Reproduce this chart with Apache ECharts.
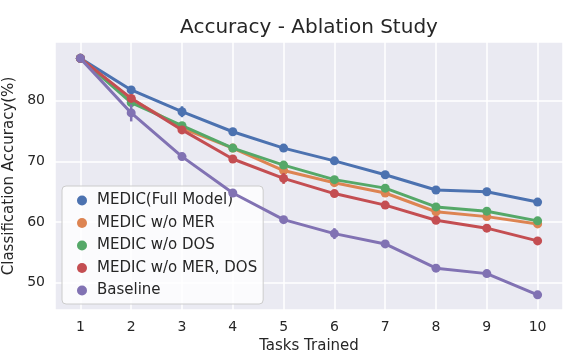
<!DOCTYPE html>
<html>
<head>
<meta charset="utf-8">
<script src="https://cdn.jsdelivr.net/npm/echarts@6/dist/echarts.min.js"></script>
<style>
  html, body { margin: 0; padding: 0; background: #fff; }
  #chart { width: 582px; height: 360px; }
</style>
</head>
<body>
<div id="chart"></div>
<script>
// tasks on the x axis
var tasks = [1, 2, 3, 4, 5, 6, 7, 8, 9, 10];

var seriesNames = ['MEDIC(Full Model)', 'MEDIC w/o MER', 'MEDIC w/o DOS', 'MEDIC w/o MER, DOS', 'Baseline'];

// accuracy values
var fullModel = [87.0, 81.8, 78.2, 74.9, 72.2, 70.1, 67.8, 65.3, 65.0, 63.3];
var woMer     = [87.0, 80.3, 75.5, 72.2, 68.5, 66.5, 64.8, 61.7, 60.9, 59.7];
var woDos     = [87.0, 79.7, 75.9, 72.2, 69.4, 67.0, 65.6, 62.5, 61.8, 60.2];
var woMerDos  = [87.0, 80.4, 75.2, 70.4, 67.2, 64.7, 62.8, 60.3, 59.0, 56.9];
var baseline  = [87.0, 78.0, 70.8, 64.8, 60.4, 58.1, 56.4, 52.4, 51.5, 48.0];

// half-width of the small confidence bars (mostly hidden under the dots)
var fullModelErr = [0, 0.4, 0.9, 0.4, 0.3, 0.3, 0.3, 0.3, 0.3, 0.3];
var woMerErr     = [0, 0.5, 0.6, 0.4, 0.5, 0.4, 0.3, 0.4, 0.3, 0.3];
var woDosErr     = [0, 0.5, 0.6, 0.4, 0.4, 0.4, 0.3, 0.3, 0.3, 0.3];
var woMerDosErr  = [0, 0.6, 0.6, 0.4, 0.9, 0.4, 0.3, 0.3, 0.4, 0.3];
var baselineErr  = [0, 1.4, 0.4, 0.4, 0.4, 0.9, 0.3, 0.4, 0.3, 0.3];

var colors = ['#4C72B0', '#DD8452', '#55A868', '#C44E52', '#8172B3'];

function pairs(vals) {
    var out = [];
    for (var i = 0; i < tasks.length; i++) {
        out.push([tasks[i], vals[i]]);
    }
    return out;
}

function errRows(vals, errs) {
    var out = [];
    for (var i = 0; i < tasks.length; i++) {
        out.push([tasks[i], vals[i] - errs[i], vals[i] + errs[i]]);
    }
    return out;
}

var allVals = [fullModel, woMer, woDos, woMerDos, baseline];
var allErrs = [fullModelErr, woMerErr, woDosErr, woMerDosErr, baselineErr];
var series = [];
for (var s = 0; s < allVals.length; s++) {
    series.push({
        name: seriesNames[s],
        type: 'line',
        data: pairs(allVals[s]),
        symbol: 'circle',
        symbolSize: 9,
        lineStyle: { width: 3, color: colors[s] },
        itemStyle: { color: colors[s] },
        z: 2 + s
    });
    series.push({
        name: seriesNames[s],
        type: 'custom',
        data: errRows(allVals[s], allErrs[s]),
        z: 2 + s,
        silent: true,
        renderItem: (function (c) {
            return function (params, api) {
                var lo = api.coord([api.value(0), api.value(1)]);
                var hi = api.coord([api.value(0), api.value(2)]);
                return {
                    type: 'line',
                    shape: { x1: lo[0], y1: lo[1], x2: hi[0], y2: hi[1] },
                    style: { stroke: c, lineWidth: 2.5 }
                };
            };
        })(colors[s])
    });
}

var textColor = '#262626';
var font = 'DejaVu Sans';

var option = {
    backgroundColor: '#ffffff',
    animation: false,
    title: {
        text: 'Accuracy - Ablation Study',
        left: 304,
        textAlign: 'center',
        top: 13,
        textStyle: { fontFamily: font, fontSize: 20, fontWeight: 'normal', color: textColor }
    },
    grid: {
        left: 55, right: 19, top: 42, bottom: 50,
        outerBoundsMode: 'none',
        show: true, backgroundColor: '#EAEAF2', borderWidth: 0
    },
    legend: {
        orient: 'vertical',
        left: 62,
        top: 186,
        icon: 'circle',
        itemWidth: 10,
        itemHeight: 10,
        itemGap: 7.5,
        padding: [7, 6, 6, 15],
        backgroundColor: 'rgba(255,255,255,0.8)',
        borderColor: '#cccccc',
        borderWidth: 1,
        borderRadius: 4,
        textStyle: { fontFamily: font, fontSize: 15, color: textColor, padding: [0, 0, 0, 5] },
        data: seriesNames
    },
    xAxis: {
        type: 'value',
        min: 0.5,
        max: 10.5,
        splitNumber: 10,
        minInterval: 1,
        maxInterval: 1,
        name: 'Tasks Trained',
        nameLocation: 'middle',
        nameGap: 28,
        nameTextStyle: { fontFamily: font, fontSize: 15, color: textColor },
        axisLine: { show: false },
        axisTick: { show: false },
        axisLabel: { showMinLabel: false, showMaxLabel: false, fontFamily: font, fontSize: 14, color: textColor, margin: 10 },
        splitLine: { show: true, lineStyle: { color: '#ffffff', width: 1.5 } }
    },
    yAxis: {
        type: 'value',
        min: 45.5,
        max: 89.7,
        minInterval: 10,
        maxInterval: 10,
        name: 'Classification Accuracy(%)',
        nameLocation: 'middle',
        nameGap: 29,
        nameTextStyle: { fontFamily: font, fontSize: 15, color: textColor },
        axisLine: { show: false },
        axisTick: { show: false },
        axisLabel: { showMinLabel: false, showMaxLabel: false, fontFamily: font, fontSize: 14, color: textColor, margin: 10 },
        splitLine: { show: true, lineStyle: { color: '#ffffff', width: 1.5 } }
    },
    series: series
};

var chart = echarts.init(document.getElementById('chart'), null, { renderer: 'canvas' });
chart.setOption(option);
</script>
</body>
</html>
